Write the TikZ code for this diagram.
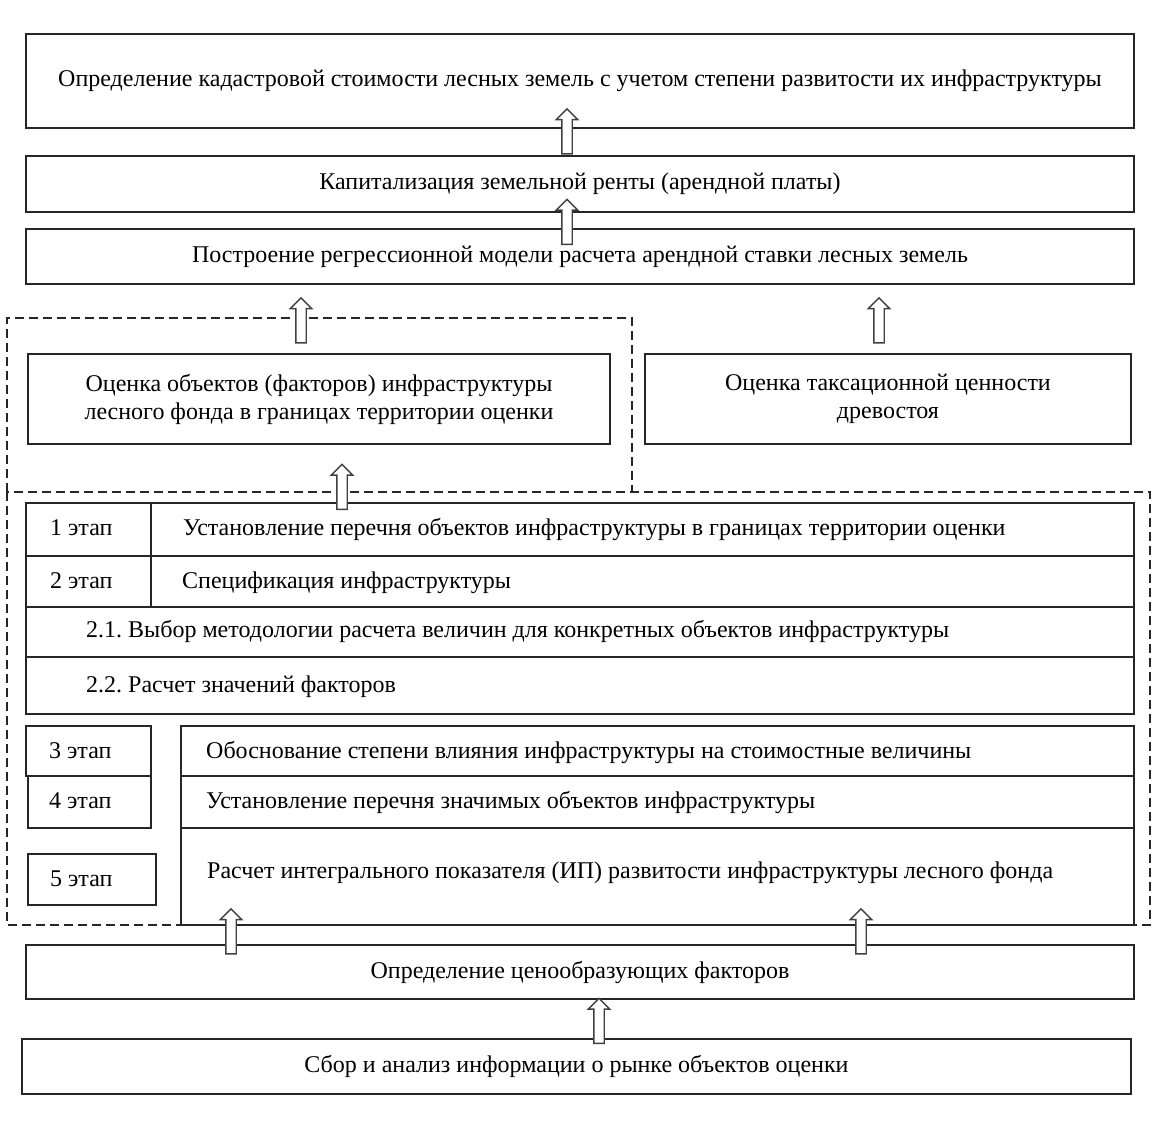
\PassOptionsToPackage{svgnames}{xcolor}
\documentclass[tikz,border=0pt]{standalone}
\usepackage{fontspec}
\setmainfont{Liberation Serif}
\usetikzlibrary{shapes.arrows}
\frenchspacing
\tikzstyle{none}=[inner sep=0pt,font=\fontsize{24}{28}\selectfont]
\tikzstyle{box}=[draw=Black!85,line width=1.6,inner sep=0pt,align=center,font=\fontsize{24}{28}\selectfont]
\tikzstyle{frame}=[draw=Black!85,line width=2,dash pattern=on 9pt off 5pt]
\tikzstyle{lift}=[single arrow,draw=Black!75,fill=white,line width=1.4,rotate=90,minimum height=45,minimum width=21,inner sep=4.5,single arrow head extend=5.5]

\begin{document}
\begin{tikzpicture}[x=1pt,y=-1pt]
  \useasboundingbox (0,0) rectangle (1168,1131);
  % dashed groups
  \draw [style=frame] (7,492) -- (7,318) -- (632,318) -- (632,492);
  \draw [style=frame] (7,492) rectangle (1150,925);
  % upper blocks
  \node [style=box, minimum width=1108, minimum height=94] (0) at (580, 81) {Определение кадастровой стоимости лесных земель с учетом степени развитости их инфраструктуры};
  \node [style=box, minimum width=1108, minimum height=56] (1) at (580, 184) {Капитализация земельной ренты (арендной платы)};
  \node [style=box, minimum width=1108, minimum height=55] (2) at (580, 256.5) {Построение регрессионной модели расчета арендной ставки лесных земель};
  \node [style=box, minimum width=582, minimum height=90] (3) at (319, 399) {Оценка объектов (факторов) инфраструктуры\\лесного фонда в границах территории оценки};
  \node [style=box, minimum width=486, minimum height=90] (4) at (888, 399) {Оценка таксационной ценности\\древостоя};
  % stage cells
  \node [style=box, minimum width=125, minimum height=53] (5) at (88.5, 529.5) {};
  \node [style=box, minimum width=983, minimum height=53] (6) at (642.5, 529.5) {};
  \node [style=box, minimum width=125, minimum height=51] (7) at (88.5, 581.5) {};
  \node [style=box, minimum width=983, minimum height=51] (8) at (642.5, 581.5) {};
  \node [style=box, minimum width=1108, minimum height=50] (9) at (580, 632) {};
  \node [style=box, minimum width=1108, minimum height=57] (10) at (580, 685.5) {};
  \node [style=box, minimum width=125, minimum height=50] (11) at (88.5, 751) {};
  \node [style=box, minimum width=953, minimum height=50] (12) at (657.5, 751) {};
  \node [style=box, minimum width=123, minimum height=52] (13) at (89.5, 802) {};
  \node [style=box, minimum width=953, minimum height=52] (14) at (657.5, 802) {};
  \node [style=box, minimum width=128, minimum height=51] (15) at (92, 879.5) {};
  \node [style=box, minimum width=953, minimum height=97] (16) at (657.5, 876.5) {};
  % stage texts
  \node [style=none, anchor=base west] (17) at (50, 535) {1 этап};
  \node [style=none, anchor=base west] (18) at (183, 535) {Установление перечня объектов инфраструктуры в границах территории оценки};
  \node [style=none, anchor=base west] (19) at (50, 588) {2 этап};
  \node [style=none, anchor=base west] (20) at (182, 588) {Спецификация инфраструктуры};
  \node [style=none, anchor=base west] (21) at (86, 637) {2.1. Выбор методологии расчета величин для конкретных объектов инфраструктуры};
  \node [style=none, anchor=base west] (22) at (86, 692) {2.2. Расчет значений факторов};
  \node [style=none, anchor=base west] (23) at (49, 758) {3 этап};
  \node [style=none, anchor=base west] (24) at (206, 758) {Обоснование степени влияния инфраструктуры на стоимостные величины};
  \node [style=none, anchor=base west] (25) at (49, 808) {4 этап};
  \node [style=none, anchor=base west] (26) at (206, 808) {Установление перечня значимых объектов инфраструктуры};
  \node [style=none, anchor=base west] (27) at (50, 886) {5 этап};
  \node [style=none, anchor=base west] (28) at (207, 878) {Расчет интегрального показателя (ИП) развитости инфраструктуры лесного фонда};
  % lower blocks
  \node [style=box, minimum width=1108, minimum height=54] (29) at (580, 972) {Определение ценообразующих факторов};
  \node [style=box, minimum width=1109, minimum height=55] (30) at (576.5, 1066.5) {Сбор и анализ информации о рынке объектов оценки};
  % block arrows
  \node [style=lift] (31) at (567, 134) {};
  \node [style=lift] (32) at (567, 224.5) {};
  \node [style=lift] (33) at (301, 323) {};
  \node [style=lift] (34) at (879, 323) {};
  \node [style=lift] (35) at (342, 489.5) {};
  \node [style=lift] (36) at (231, 934) {};
  \node [style=lift] (37) at (861, 934) {};
  \node [style=lift] (38) at (599, 1023.5) {};
\end{tikzpicture}
\end{document}
